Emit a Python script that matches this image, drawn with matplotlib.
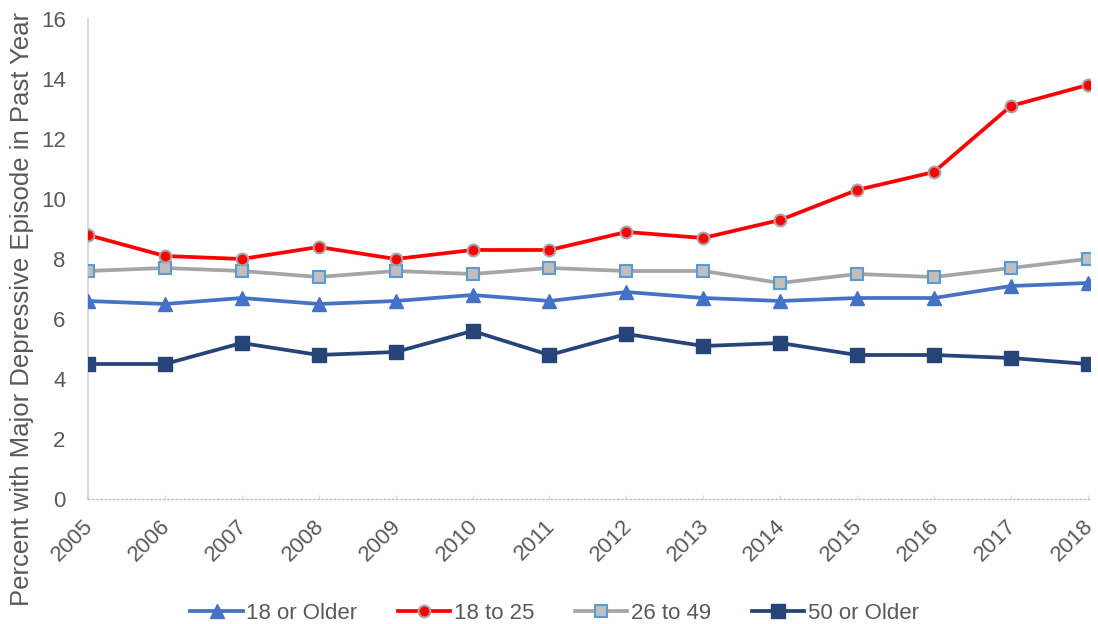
import matplotlib
matplotlib.use("Agg")
import matplotlib.pyplot as plt
import matplotlib.transforms as mtransforms

plt.rcParams['font.family'] = ['Liberation Sans', 'DejaVu Sans']

years = ['2005', '2006', '2007', '2008', '2009', '2010', '2011', '2012',
         '2013', '2014', '2015', '2016', '2017', '2018']
older18 = [6.6, 6.5, 6.7, 6.5, 6.6, 6.8, 6.6, 6.9, 6.7, 6.6, 6.7, 6.7, 7.1, 7.2]
age18_25 = [8.8, 8.1, 8.0, 8.4, 8.0, 8.3, 8.3, 8.9, 8.7, 9.3, 10.3, 10.9, 13.1, 13.8]
age26_49 = [7.6, 7.7, 7.6, 7.4, 7.6, 7.5, 7.7, 7.6, 7.6, 7.2, 7.5, 7.4, 7.7, 8.0]
older50 = [4.5, 4.5, 5.2, 4.8, 4.9, 5.6, 4.8, 5.5, 5.1, 5.2, 4.8, 4.8, 4.7, 4.5]
y_ticks = [0, 2, 4, 6, 8, 10, 12, 14, 16]

fig = plt.figure(figsize=(10.98, 6.24), dpi=100)
ax = fig.add_axes([0.0801, 0.2003, 0.9127, 0.7693])
x = list(range(len(years)))

lw = 2.7
ax.plot(x, older18, color='#4472C4', lw=lw, marker='^', markersize=10.5,
        markerfacecolor='#4472C4', markeredgecolor='#4472C4', label='18 or Older', zorder=3)
ax.plot(x, age18_25, color='#FF0000', lw=lw, marker='o', markersize=8.5,
        markerfacecolor='#FF0000', markeredgecolor='#A5A5A5', markeredgewidth=1.5,
        label='18 to 25', zorder=4)
ax.plot(x, age26_49, color='#A5A5A5', lw=lw, marker='s', markersize=9,
        markerfacecolor='#BFBFBF', markeredgecolor='#5B9BD5', markeredgewidth=1.5,
        label='26 to 49', zorder=3)
ax.plot(x, older50, color='#264478', lw=lw, marker='s', markersize=9.5,
        markerfacecolor='#264478', markeredgecolor='#264478', label='50 or Older', zorder=3)

ax.set_xlim(0, len(years) - 1 + 0.03)
ax.set_ylim(0, 16)
ax.set_yticks(y_ticks)
ax.set_yticklabels([str(v) for v in y_ticks], fontsize=16, color='#595959')
ax.set_xticks(x)
ax.set_xticklabels(years, rotation=45, ha='right', rotation_mode='anchor',
                   fontsize=16, color='#595959')
ax.tick_params(axis='y', length=0, pad=16)
ax.tick_params(axis='x', length=3, direction='in', color='#D9D9D9', pad=9)

offset = mtransforms.ScaledTranslation(-5 / 100, -4 / 100, fig.dpi_scale_trans)
for lab in ax.get_xticklabels():
    lab.set_transform(lab.get_transform() + offset)

for s in ['top', 'right']:
    ax.spines[s].set_visible(False)
ax.spines['left'].set_color('#D9D9D9')
ax.spines['left'].set_linewidth(1.5)
ax.spines['bottom'].set_color('#BFBFBF')
ax.spines['bottom'].set_linestyle((0, (1, 2)))
ax.spines['bottom'].set_linewidth(1.0)

ax.set_ylabel('Percent with Major Depressive Episode in Past Year', fontsize=18.5,
              color='#595959')
ax.yaxis.set_label_coords(-0.054, 0.395)

fig.legend(loc='center', bbox_to_anchor=(0.505, 0.017), ncol=4, frameon=False,
           fontsize=16, handlelength=2.35, columnspacing=1.85, handletextpad=0.15,
           labelcolor='#595959')

fig.savefig('out.png', dpi=100)
